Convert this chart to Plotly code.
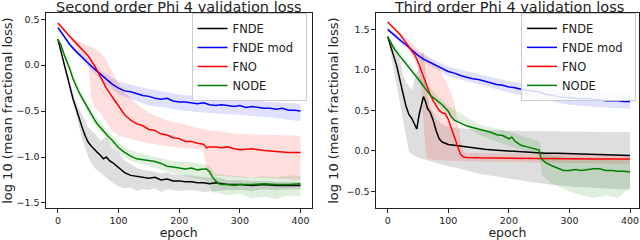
import plotly.graph_objects as go

# ---------------- Second order Phi 4 ----------------
so_ep_fnde = [0,5,10,15,20,25,30,35,40,45,50,55,60,65,70,75,80,85,90,95,100,110,120,130,140,150,160,170,180,190,200,210,220,230,240,250,260,280,300,320,340,360,380,400]
so_fnde = [0.28,0.15,0.02,-0.12,-0.25,-0.37,-0.47,-0.58,-0.68,-0.77,-0.84,-0.88,-0.92,-0.95,-0.98,-1.02,-1.00,-1.04,-1.06,-1.09,-1.12,-1.17,-1.20,-1.21,-1.22,-1.23,-1.22,-1.25,-1.24,-1.26,-1.26,-1.27,-1.27,-1.28,-1.28,-1.29,-1.28,-1.30,-1.30,-1.31,-1.30,-1.31,-1.31,-1.31]
so_bep_fnde = [0,10,20,30,40,50,60,70,80,90,100,110,120,130,140,150,160,170,180,190,200,220,240,260,280,300,320,340,360,380,400]
so_fnde_lo = [0.27,-0.02,-0.30,-0.55,-0.80,-1.00,-1.12,-1.18,-1.23,-1.28,-1.32,-1.34,-1.33,-1.37,-1.35,-1.36,-1.34,-1.38,-1.35,-1.36,-1.37,-1.36,-1.38,-1.37,-1.36,-1.36,-1.37,-1.35,-1.36,-1.35,-1.35]
so_fnde_hi = [0.30,0.06,-0.20,-0.40,-0.55,-0.68,-0.74,-0.82,-0.78,-0.90,-0.95,-1.04,-1.08,-1.12,-1.14,-1.15,-1.16,-1.18,-1.17,-1.19,-1.20,-1.20,-1.22,-1.22,-1.25,-1.25,-1.26,-1.26,-1.27,-1.27,-1.27]

so_ep_fndem = [0,10,20,30,40,50,60,70,80,90,100,110,120,130,140,150,160,170,180,190,200,210,220,230,240,250,260,270,280,290,300,310,320,330,340,350,360,370,380,390,400]
so_fndem = [0.41,0.31,0.22,0.15,0.08,0.02,-0.04,-0.10,-0.16,-0.21,-0.25,-0.28,-0.29,-0.31,-0.33,-0.34,-0.36,-0.37,-0.36,-0.39,-0.40,-0.40,-0.41,-0.42,-0.41,-0.43,-0.44,-0.43,-0.44,-0.45,-0.44,-0.46,-0.45,-0.46,-0.47,-0.47,-0.48,-0.47,-0.49,-0.49,-0.50]
so_bep_fndem = [0,25,50,75,100,125,150,175,200,250,300,350,400]
so_fndem_lo = [0.40,0.16,-0.02,-0.19,-0.32,-0.38,-0.44,-0.46,-0.49,-0.52,-0.54,-0.57,-0.61]
so_fndem_hi = [0.42,0.21,0.06,-0.08,-0.18,-0.22,-0.26,-0.29,-0.32,-0.35,-0.37,-0.40,-0.42]

so_ep_fno = [0,10,20,30,40,50,60,70,80,90,100,105,110,120,130,140,150,160,170,180,190,200,210,220,230,240,245,250,260,270,280,290,300,320,340,360,380,400]
so_fno = [0.46,0.38,0.31,0.24,0.17,0.10,0.00,-0.13,-0.25,-0.35,-0.45,-0.50,-0.54,-0.60,-0.64,-0.66,-0.70,-0.71,-0.75,-0.76,-0.79,-0.80,-0.83,-0.83,-0.85,-0.86,-0.90,-0.89,-0.89,-0.90,-0.89,-0.91,-0.92,-0.91,-0.93,-0.94,-0.95,-0.95]
so_bep_fno = [0,10,20,30,40,50,55,60,70,80,90,100,110,130,150,180,200,240,245,250,300,350,400]
so_fno_lo = [0.45,0.37,0.29,0.20,0.10,0.00,-0.35,-0.45,-0.52,-0.62,-0.72,-0.77,-0.79,-0.82,-0.85,-0.88,-0.90,-0.92,-1.15,-1.20,-1.22,-1.23,-1.25]
so_fno_hi = [0.47,0.40,0.33,0.28,0.24,0.21,0.20,0.18,0.14,0.05,-0.08,-0.20,-0.30,-0.42,-0.52,-0.60,-0.63,-0.70,-0.70,-0.71,-0.75,-0.76,-0.77]

so_ep_node = [0,5,10,15,20,25,30,35,40,45,50,55,60,65,70,75,80,85,90,95,100,110,120,130,140,150,160,170,180,190,200,210,220,230,240,245,250,255,260,265,270,280,290,300,320,340,360,380,400]
so_node = [0.28,0.22,0.12,0.04,-0.05,-0.15,-0.23,-0.30,-0.36,-0.42,-0.48,-0.53,-0.59,-0.64,-0.68,-0.72,-0.75,-0.79,-0.82,-0.86,-0.90,-0.95,-0.99,-1.02,-1.03,-1.04,-1.05,-1.07,-1.10,-1.11,-1.12,-1.13,-1.12,-1.14,-1.13,-1.13,-1.16,-1.22,-1.26,-1.29,-1.30,-1.30,-1.31,-1.30,-1.30,-1.29,-1.30,-1.30,-1.29]
so_bep_node = [0,20,40,60,80,100,120,150,180,200,220,240,250,255,260,280,300,320,340,360,380,400]
so_node_lo = [0.27,-0.08,-0.40,-0.64,-0.80,-0.96,-1.04,-1.10,-1.16,-1.20,-1.22,-1.25,-1.30,-1.40,-1.38,-1.42,-1.40,-1.45,-1.43,-1.46,-1.42,-1.43]
so_node_hi = [0.30,-0.02,-0.32,-0.54,-0.70,-0.84,-0.93,-0.98,-1.03,-1.05,-1.06,-1.08,-1.10,-1.15,-1.18,-1.20,-1.21,-1.22,-1.21,-1.22,-1.20,-1.21]

# ---------------- Third order Phi 4 ----------------
to_ep_fnde = [0,5,10,15,20,25,30,35,40,45,48,52,56,59,62,66,70,75,80,85,90,95,100,110,120,140,160,180,200,220,240,260,280,300,320,340,360,380,400]
to_fnde = [1.41,1.30,1.17,1.05,0.90,0.72,0.56,0.45,0.40,0.33,0.27,0.45,0.60,0.67,0.62,0.52,0.48,0.38,0.25,0.15,0.11,0.09,0.08,0.07,0.06,0.04,0.02,0.01,0.00,-0.01,-0.02,-0.03,-0.03,-0.035,-0.04,-0.045,-0.05,-0.05,-0.055]
to_bep_fnde = [0,10,20,25,30,35,40,45,50,55,58,61,65,70,80,90,100,120,150,200,250,300,350,400]
to_fnde_lo = [1.40,1.00,0.60,0.45,0.20,0.00,-0.04,-0.06,-0.08,-0.09,-0.10,-0.11,-0.12,-0.13,-0.15,-0.17,-0.19,-0.22,-0.28,-0.34,-0.40,-0.44,-0.46,-0.48]
to_fnde_hi = [1.42,1.30,1.15,0.95,0.85,0.80,0.75,0.90,1.00,1.15,1.25,1.10,0.75,0.55,0.40,0.33,0.30,0.28,0.26,0.25,0.245,0.24,0.235,0.23]

to_ep_fndem = [0,10,20,30,40,50,60,70,80,90,100,110,120,130,140,150,160,170,180,190,200,210,220,230,240,250,260,270,280,290,300,310,320,330,340,350,360,370,380,390,400]
to_fndem = [1.50,1.43,1.37,1.31,1.24,1.18,1.13,1.09,1.05,1.02,0.98,0.96,0.93,0.91,0.89,0.88,0.86,0.84,0.82,0.81,0.79,0.78,0.76,0.75,0.74,0.73,0.70,0.69,0.67,0.66,0.66,0.65,0.64,0.65,0.63,0.63,0.62,0.62,0.62,0.61,0.61]
to_bep_fndem = [0,50,100,150,200,250,300,350,400]
to_fndem_lo = [1.48,1.14,0.92,0.82,0.72,0.64,0.57,0.54,0.52]
to_fndem_hi = [1.52,1.22,1.04,0.95,0.86,0.80,0.75,0.73,0.73]

to_ep_fno = [0,10,20,30,40,45,50,55,60,65,70,75,80,85,90,95,100,105,110,115,120,125,130,150,200,250,300,350,400]
to_fno = [1.59,1.52,1.44,1.34,1.24,1.18,1.10,1.00,0.89,0.79,0.70,0.62,0.56,0.50,0.47,0.46,0.39,0.28,0.19,0.07,-0.04,-0.075,-0.08,-0.085,-0.09,-0.09,-0.095,-0.10,-0.10]
to_bep_fno = [0,20,40,50,55,60,63,66,80,90,100,110,115,120,125,130,200,300,400]
to_fno_lo = [1.58,1.42,1.20,1.00,0.80,0.30,-0.05,-0.10,-0.11,-0.115,-0.12,-0.12,-0.125,-0.125,-0.13,-0.13,-0.14,-0.15,-0.16]
to_fno_hi = [1.60,1.47,1.32,1.25,1.22,1.20,1.18,1.16,1.07,0.95,0.80,0.60,0.40,0.15,0.00,-0.03,-0.03,-0.04,-0.05]

to_ep_node = [0,10,20,30,40,50,60,70,80,90,100,105,110,120,130,140,150,160,170,180,190,200,205,210,220,230,240,250,253,260,270,280,290,300,310,320,330,340,350,360,370,380,390,400]
to_node = [1.41,1.27,1.17,1.08,0.98,0.89,0.79,0.69,0.63,0.57,0.49,0.42,0.38,0.34,0.31,0.29,0.27,0.25,0.23,0.20,0.19,0.15,0.17,0.12,0.07,0.05,0.03,0.01,-0.09,-0.14,-0.18,-0.21,-0.24,-0.24,-0.23,-0.24,-0.23,-0.22,-0.22,-0.24,-0.24,-0.25,-0.25,-0.26]
to_bep_node = [0,50,100,150,200,250,255,270,300,320,340,360,380,400]
to_node_lo = [1.40,0.86,0.44,0.20,0.06,-0.05,-0.30,-0.40,-0.50,-0.55,-0.58,-0.55,-0.58,-0.45]
to_node_hi = [1.42,0.93,0.55,0.33,0.24,0.12,0.00,-0.05,-0.08,-0.09,-0.10,-0.10,-0.11,-0.12]

names = ["FNDE", "FNDE mod\u00a0\u00a0", "FNO", "NODE"]
line_colors = ["#000000", "#0000ff", "#ff0000", "#008000"]
band_colors = ["rgba(0,0,0,0.13)", "rgba(0,0,255,0.12)", "rgba(255,0,0,0.13)", "rgba(0,128,0,0.13)"]
titles = ["Second order Phi 4 validation loss", "Third order Phi 4 validation loss"]

panels = [
    [(so_ep_fnde, so_fnde, so_bep_fnde, so_fnde_lo, so_fnde_hi),
     (so_ep_fndem, so_fndem, so_bep_fndem, so_fndem_lo, so_fndem_hi),
     (so_ep_fno, so_fno, so_bep_fno, so_fno_lo, so_fno_hi),
     (so_ep_node, so_node, so_bep_node, so_node_lo, so_node_hi)],
    [(to_ep_fnde, to_fnde, to_bep_fnde, to_fnde_lo, to_fnde_hi),
     (to_ep_fndem, to_fndem, to_bep_fndem, to_fndem_lo, to_fndem_hi),
     (to_ep_fno, to_fno, to_bep_fno, to_fno_lo, to_fno_hi),
     (to_ep_node, to_node, to_bep_node, to_node_lo, to_node_hi)],
]

fig = go.Figure()
for p, series in enumerate(panels):
    xa = "x" if p == 0 else "x2"
    ya = "y" if p == 0 else "y2"
    lg = "legend" if p == 0 else "legend2"
    for i, (ep, m, bep, lo, hi) in enumerate(series):
        fig.add_trace(go.Scatter(
            x=list(bep) + list(bep)[::-1], y=list(hi) + list(lo)[::-1],
            fill="toself", fillcolor=band_colors[i], line=dict(width=0),
            mode="lines", hoverinfo="skip", showlegend=False, xaxis=xa, yaxis=ya))
    for i, (ep, m, bep, lo, hi) in enumerate(series):
        fig.add_trace(go.Scatter(
            x=ep, y=m, mode="lines", name=names[i],
            line=dict(color=line_colors[i], width=1.5),
            xaxis=xa, yaxis=ya, legend=lg))

FONT = "DejaVu Sans"
axis_common = dict(
    showline=True, linecolor="#222", linewidth=1, mirror=True,
    ticks="outside", ticklen=3.5, tickwidth=0.8, tickcolor="#222",
    showgrid=False, zeroline=False,
    tickfont=dict(family=FONT, size=9.5, color="#222"),
)
W, H = 640, 240
top = 1 - 13 / H
bot = 1 - 210 / H

fig.update_layout(
    width=W, height=H,
    margin=dict(l=0, r=0, t=0, b=0),
    paper_bgcolor="white", plot_bgcolor="white",
    font=dict(family=FONT, color="#222"),
    xaxis=dict(axis_common, domain=[46 / W, 312 / W], range=[-19.75, 418.1],
               tickvals=[0, 100, 200, 300, 400], anchor="y",
               title=dict(text="epoch", font=dict(size=12.5), standoff=5)),
    yaxis=dict(axis_common, domain=[bot, top], range=[-1.558, 0.569],
               tickvals=[-1.5, -1.0, -0.5, 0.0, 0.5], tickformat=".1f", anchor="x",
               title=dict(text="log 10 (mean fractional loss)", font=dict(size=13), standoff=4)),
    xaxis2=dict(axis_common, domain=[376.5 / W, 1.0], range=[-19.4, 414.8],
                tickvals=[0, 100, 200, 300, 400], anchor="y2",
                title=dict(text="epoch", font=dict(size=12.5), standoff=5)),
    yaxis2=dict(axis_common, domain=[bot, top], range=[-0.707, 1.703],
                tickvals=[-0.5, 0.0, 0.5, 1.0, 1.5], tickformat=".1f", anchor="x2",
                title=dict(text="log 10 (mean fractional loss)", font=dict(size=13), standoff=4)),
    legend=dict(x=307 / W, y=1 - 13 / H, xanchor="right", yanchor="top",
                bgcolor="rgba(255,255,255,0.85)", bordercolor="#cccccc", borderwidth=1,
                font=dict(family=FONT, size=11.5, color="#222"), tracegroupgap=0),
    legend2=dict(x=637 / W, y=1 - 13 / H, xanchor="right", yanchor="top",
                 bgcolor="rgba(255,255,255,0.85)", bordercolor="#cccccc", borderwidth=1,
                 font=dict(family=FONT, size=11.5, color="#222"), tracegroupgap=0),
    showlegend=True,
)

centers = [(46 + 312) / 2 / W, (376.5 + 643) / 2 / W]
for c, t in zip(centers, titles):
    fig.add_annotation(text=t, x=c, y=top, xref="paper", yref="paper",
                       xanchor="center", yanchor="bottom", showarrow=False,
                       font=dict(family=FONT, size=14.5, color="#222"), yshift=-4)

fig.write_html("out.html", config={"displayModeBar": False},
               post_script="document.body.style.margin='0';document.body.style.overflow='hidden';")
